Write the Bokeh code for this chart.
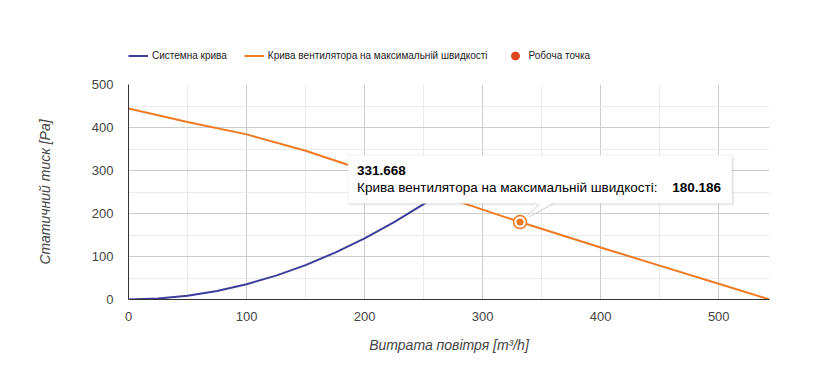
from bokeh.plotting import figure
from bokeh.layouts import column
from bokeh.models import (Range1d, SingleIntervalTicker, Legend, LegendItem,
                          BoxAnnotation, PolyAnnotation, Label, Arrow)
from bokeh.embed import file_html
from bokeh.resources import INLINE

# ---- data ----
sys_x = [0, 25, 50, 75, 100, 125, 150, 175, 200, 225, 250, 262.5]
sys_y = [0, 2.2, 8.9, 20, 35.5, 55.5, 80, 109, 142, 180, 222, 244.6]

fan_x = [0, 50, 100, 150, 185, 250, 300, 331.668, 400, 452, 502, 543]
fan_y = [444, 413, 384, 346, 314, 255, 209, 180.186, 121, 77, 35, 0]

op_x = [262.5]
op_y = [244.6]

hover_x = 331.668
hover_y = 180.186

x_label = "Витрата повітря [m³/h]"
y_label = "Статичний тиск [Pa]"
sys_name = "Системна крива"
fan_name = "Крива вентилятора на максимальній швидкості"
op_name = "Робоча точка"

BLUE = "#3d3d9b"
ORANGE = "#ef7a22"
RED = "#e2431e"
FONT = "Liberation Sans"

FRAME_W, FRAME_H = 641, 215
X_MAX, Y_MAX = max(fan_x), 500

# ---- legend strip (its proxies sit outside its visible range) ----
lf = figure(width=816, height=70, x_range=Range1d(-20, -10), y_range=Range1d(-20, -10),
            x_axis_type=None, y_axis_type=None, output_backend="svg", toolbar_location=None,
            min_border=0)
lf.outline_line_color = None
lf.background_fill_color = "white"
lf.border_fill_color = "white"
l_sys = lf.line(sys_x, sys_y, line_color=BLUE, line_width=2)
l_fan = lf.line(fan_x, fan_y, line_color=ORANGE, line_width=2)
l_op = lf.scatter(op_x, op_y, size=10, fill_color=RED, line_color=RED)
legend = Legend(items=[LegendItem(label=sys_name, renderers=[l_sys]),
                       LegendItem(label=fan_name, renderers=[l_fan]),
                       LegendItem(label=op_name, renderers=[l_op])],
                orientation="horizontal", location=(0, 2),
                glyph_width=20, glyph_height=25, label_height=25,
                label_standoff=4, spacing=17, padding=0, margin=0,
                border_line_color=None, background_fill_alpha=0,
                label_text_font=FONT, label_text_font_size="10px",
                label_text_color="#222222")
lf.add_layout(legend)

# ---- main chart ----
p = figure(width=816, height=296, x_range=Range1d(0, X_MAX), y_range=Range1d(0, Y_MAX),
           output_backend="svg", toolbar_location=None,
           min_border_left=128, min_border_right=47, min_border_top=14, min_border_bottom=67)
p.outline_line_color = None
p.background_fill_color = "white"
p.border_fill_color = "white"

for ax in (p.xaxis[0], p.yaxis[0]):
    ax.ticker = SingleIntervalTicker(interval=100, num_minor_ticks=2)
    ax.major_tick_line_color = None
    ax.minor_tick_line_color = None
    ax.axis_line_color = "#333333"
    ax.axis_line_width = 1
    ax.major_label_text_font = FONT
    ax.major_label_text_font_size = "13px"
    ax.major_label_text_color = "#444444"
    ax.axis_label_text_font = FONT
    ax.axis_label_text_font_size = "14px"
    ax.axis_label_text_font_style = "italic"
    ax.axis_label_text_color = "#444444"

p.xaxis.axis_label = x_label
p.yaxis.axis_label = y_label
p.xaxis.major_label_standoff = 6
p.xaxis.axis_label_standoff = 13
p.yaxis.major_label_standoff = 9
p.yaxis.axis_label_standoff = 36

for g in (p.xgrid[0], p.ygrid[0]):
    g.grid_line_color = "#cccccc"
    g.minor_grid_line_color = "#ebebeb"

r_sys = p.line(sys_x, sys_y, line_color=BLUE, line_width=2)
r_fan = p.line(fan_x, fan_y, line_color=ORANGE, line_width=2)
r_op = p.scatter(op_x, op_y, size=10, fill_color=RED, line_color=RED)

# hovered point highlight
p.scatter([hover_x], [hover_y], size=13, fill_color="white", line_color=ORANGE, line_width=1.5)
p.scatter([hover_x], [hover_y], size=7, fill_color=ORANGE, line_color=None)

# ---- tooltip (pixel offsets converted to data units) ----
XPX = FRAME_W / X_MAX
YPX = FRAME_H / Y_MAX

def dx(px):
    return hover_x + px / XPX

def dy(px):
    return hover_y + px / YPX

L, R, T, B = -172, 212, 67, 18.5
p.add_layout(BoxAnnotation(left=dx(L + 1), right=dx(R + 2), top=dy(T - 2), bottom=dy(B - 2),
                           fill_color="black", fill_alpha=0.08, line_color=None))
p.add_layout(BoxAnnotation(left=dx(L), right=dx(R), top=dy(T), bottom=dy(B),
                           fill_color="white", fill_alpha=1, line_color="#cccccc", line_width=1))
p.add_layout(PolyAnnotation(xs=[dx(19), dx(7), dx(34)], ys=[dy(B + 1), dy(6), dy(B + 1)],
                            fill_color="white", fill_alpha=1, line_color=None))
p.add_layout(Arrow(end=None, x_start=dx(20), y_start=dy(B), x_end=dx(7), y_end=dy(6),
                   line_color="#cccccc", line_width=1))
p.add_layout(Arrow(end=None, x_start=dx(33.5), y_start=dy(B), x_end=dx(9), y_end=dy(5),
                   line_color="#cccccc", line_width=1))

p.add_layout(Label(x=hover_x, y=hover_y, x_offset=-163, y_offset=51.5, text=f"{hover_x:.3f}",
                   text_font=FONT, text_font_size="13.5px", text_font_style="bold",
                   text_color="#000000", text_baseline="middle"))
p.add_layout(Label(x=hover_x, y=hover_y, x_offset=-163, y_offset=34.5, text=fan_name + ":",
                   text_font=FONT, text_font_size="13.5px",
                   text_color="#000000", text_baseline="middle"))
p.add_layout(Label(x=hover_x, y=hover_y, x_offset=201, y_offset=34.5, text=f"{hover_y:.3f}",
                   text_font=FONT, text_font_size="13.5px", text_font_style="bold",
                   text_color="#000000", text_baseline="middle", text_align="right"))

layout = column(lf, p, spacing=0)
open("out.html", "w").write(file_html(layout, INLINE))
